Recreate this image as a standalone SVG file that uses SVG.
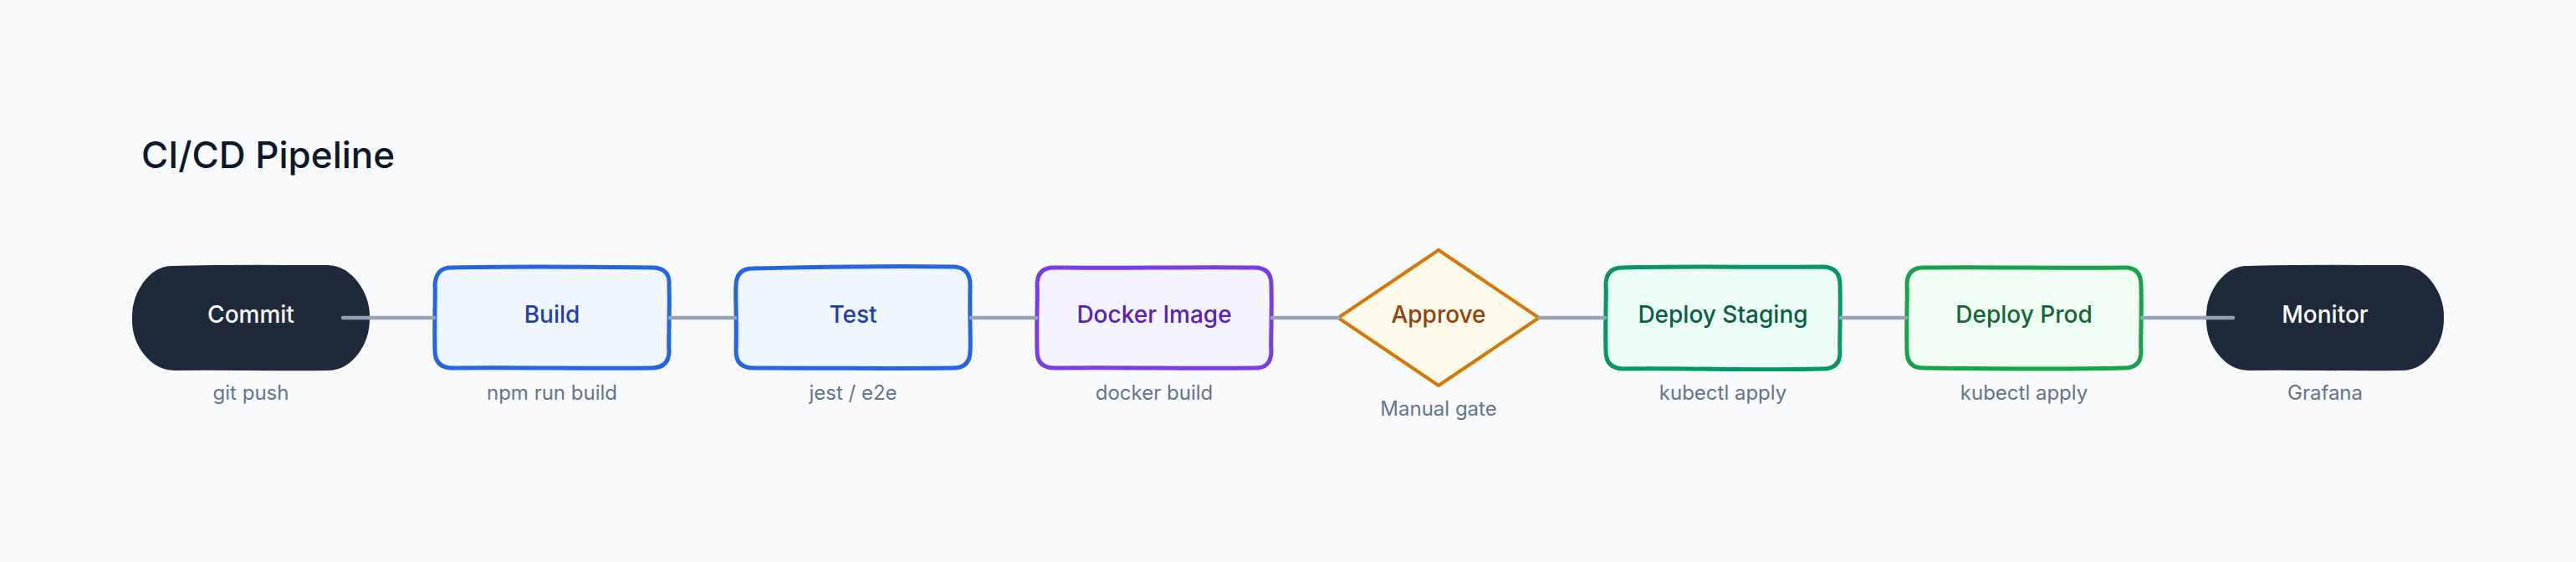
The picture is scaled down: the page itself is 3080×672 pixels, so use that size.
<svg xmlns="http://www.w3.org/2000/svg" width="3080" height="672" viewBox="0 0 3080 672">
<style>
.title{font-family:Inter,"Noto Sans",sans-serif;font-size:44px;font-weight:500;fill:#0f172a}
.nl{font-family:Inter,"Noto Sans",sans-serif;font-size:28px;font-weight:500;text-anchor:middle;dominant-baseline:central}
.sub{font-family:Inter,"Noto Sans",sans-serif;font-size:24px;fill:#64748b;text-anchor:middle;dominant-baseline:central}
.edge{stroke:#94a3b8;stroke-width:4.5;stroke-linecap:round;fill:none}
.blue{fill:#eff6ff;stroke:#2563eb;stroke-width:5;stroke-linejoin:round}
.violet{fill:#f5f3ff;stroke:#7c3aed;stroke-width:5;stroke-linejoin:round}
.emerald{fill:#ecfdf5;stroke:#059669;stroke-width:5;stroke-linejoin:round}
.green{fill:#f0fdf4;stroke:#16a34a;stroke-width:5;stroke-linejoin:round}
.amber{fill:#fffbeb;stroke:#d97706;stroke-width:4;stroke-linejoin:miter}
.dark{fill:#1e293b;stroke:#1e293b;stroke-width:2}
</style>
<rect width="3080" height="672" fill="#f8fafc"/>
<text class="title" x="169" y="201">CI/CD Pipeline</text>

<g id="nodes">
<g id="commit">
<path class="dark" d="M207,319 C260,317 330,318 392,318 C420,319 442,350 441,381 C441,412 420,442 392,442 C330,443 260,441 208,442 C180,441 158,412 159,380 C158,350 180,318 207,319 Z"/>
<text class="nl" x="300" y="376" fill="#ffffff">Commit</text>
<text class="sub" x="300" y="469">git push</text>
</g>
<g id="build">
<path class="blue" d="M541,320 C620,318 700,319 781,320 Q801,321 800,340 C801,380 799,410 800,421 Q799,440 779,440 C700,441 620,439 539,440 Q520,439 520,419 C519,380 521,350 520,341 Q521,319 541,320 Z"/>
<text class="nl" x="660" y="376" fill="#1e40af">Build</text>
<text class="sub" x="660" y="469">npm run build</text>
</g>
<g id="test">
<path class="blue" d="M900,321 C980,319 1060,318 1141,319 Q1160,320 1160,341 C1159,380 1161,410 1160,419 Q1160,440 1140,440 C1060,441 980,440 901,440 Q880,440 880,420 C881,380 879,350 880,342 Q880,321 900,321 Z"/>
<text class="nl" x="1020" y="376" fill="#1e40af">Test</text>
<text class="sub" x="1020" y="469">jest / e2e</text>
</g>
<g id="docker">
<path class="violet" d="M1260,320 C1340,321 1420,319 1500,320 Q1520,320 1520,340 C1521,380 1519,410 1520,420 Q1520,441 1499,440 C1420,441 1340,439 1261,440 Q1240,440 1240,420 C1239,380 1241,350 1240,341 Q1240,320 1260,320 Z"/>
<text class="nl" x="1380" y="376" fill="#5b21b6">Docker Image</text>
<text class="sub" x="1380" y="469">docker build</text>
</g>
<g id="approve">
<path class="amber" d="M1720,299 L1840,380 L1720,461 L1600,380 Z"/>
<text class="nl" x="1720" y="376" fill="#92400e">Approve</text>
<text class="sub" x="1720" y="488">Manual gate</text>
</g>
<g id="staging">
<path class="emerald" d="M1940,320 C2020,318 2100,320 2180,319 Q2200,320 2200,340 C2201,380 2199,410 2200,421 Q2200,441 2180,441 C2100,443 2020,440 1940,441 Q1920,440 1920,420 C1919,380 1921,350 1920,341 Q1920,320 1940,320 Z"/>
<text class="nl" x="2060" y="376" fill="#065f46">Deploy Staging</text>
<text class="sub" x="2060" y="469">kubectl apply</text>
</g>
<g id="prod">
<path class="green" d="M2300,320 C2380,319 2460,321 2541,320 Q2560,320 2560,341 C2561,380 2559,410 2560,420 Q2560,440 2540,440 C2460,442 2380,441 2300,440 Q2280,440 2280,420 C2279,380 2281,350 2280,341 Q2280,320 2300,320 Z"/>
<text class="nl" x="2420" y="376" fill="#166534">Deploy Prod</text>
<text class="sub" x="2420" y="469">kubectl apply</text>
</g>
<g id="monitor">
<path class="dark" d="M2688,319 C2740,317 2810,318 2872,318 C2900,319 2922,350 2921,381 C2921,412 2900,442 2872,442 C2810,443 2740,441 2688,442 C2660,441 2638,412 2639,380 C2638,350 2660,318 2688,319 Z"/>
<text class="nl" x="2780" y="376" fill="#ffffff">Monitor</text>
<text class="sub" x="2780" y="469">Grafana</text>
</g>
</g>

<g id="connectors">
<line class="edge" x1="410" y1="380" x2="519" y2="380"/>
<line class="edge" x1="801" y1="380" x2="879" y2="380"/>
<line class="edge" x1="1161" y1="380" x2="1239" y2="380"/>
<line class="edge" x1="1521" y1="380" x2="1600" y2="380"/>
<line class="edge" x1="1840" y1="380" x2="1919" y2="380"/>
<line class="edge" x1="2201" y1="380" x2="2279" y2="380"/>
<line class="edge" x1="2561" y1="380" x2="2670" y2="380"/>
</g>
</svg>
